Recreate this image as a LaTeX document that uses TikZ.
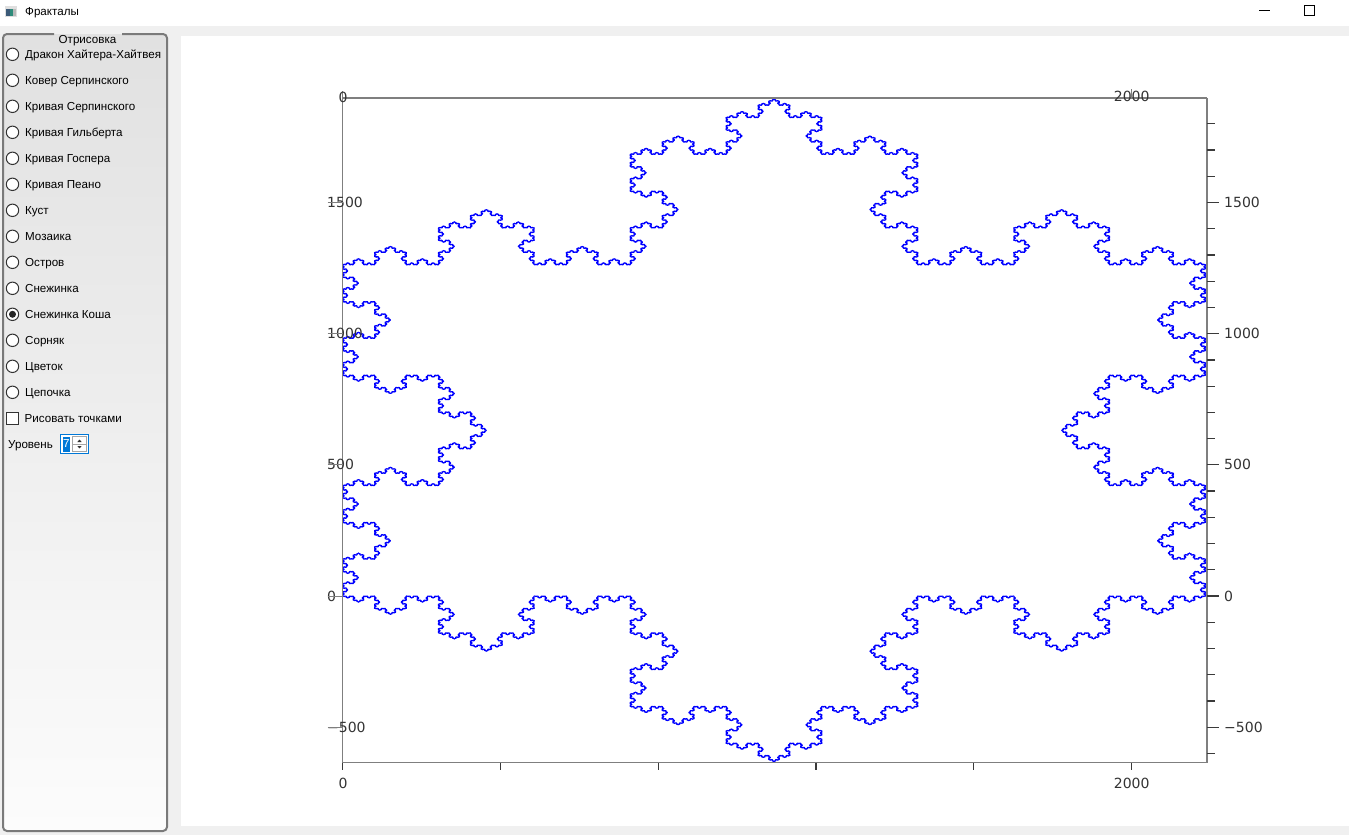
\documentclass[tikz,border=0pt]{standalone}
\usepackage{fontspec}
\setmainfont{Liberation Sans}
\newfontfamily\axisfont{DejaVu Sans}
\definecolor{winbg}{HTML}{F0F0F0}
\definecolor{boxtop}{HTML}{E1E1E1}
\definecolor{boxbot}{HTML}{FCFCFC}
\definecolor{boxborder}{HTML}{7A7A7A}
\definecolor{radiogray}{HTML}{333333}
\definecolor{spinblue}{HTML}{0078D7}
\definecolor{selblue}{HTML}{0078D7}
\definecolor{axisgray}{HTML}{7F7F7F}
\definecolor{tickgray}{HTML}{3A3A3A}
\definecolor{labgray}{HTML}{333333}
\definecolor{fractblue}{HTML}{0000FF}
\definecolor{iconA}{HTML}{3B5A78}
\definecolor{iconB}{HTML}{2E8B7A}
% ---- Koch snowflake turtle (level 7, side 3^7 = 2187 data units) ----
\newdimen\fkx \newdimen\fky \newcount\fkc
\def\fkdirone#1#2#3{%
  \expandafter\def\csname fkdx\the\numexpr#1\relax\endcsname{#2}%
  \expandafter\def\csname fkdy\the\numexpr#1\relax\endcsname{#3}}
\def\fkdir#1#2#3{%
  \fkdirone{#1-12}{#2}{#3}\fkdirone{#1-6}{#2}{#3}\fkdirone{#1}{#2}{#3}%
  \fkdirone{#1+6}{#2}{#3}\fkdirone{#1+12}{#2}{#3}}
% x: 0.3946 px per unit, y: 0.26233 px per unit
\fkdir{0}{0.3946pt}{0pt}
\fkdir{1}{0.1973pt}{0.227185pt}
\fkdir{2}{-0.1973pt}{0.227185pt}
\fkdir{3}{-0.3946pt}{0pt}
\fkdir{4}{-0.1973pt}{-0.227185pt}
\fkdir{5}{0.1973pt}{-0.227185pt}
\def\fkflush{\pgfusepath{stroke}\pgfpathmoveto{\pgfqpoint{\fkx}{\fky}}\fkc=0 }
\def\fkstep#1{%
  \advance\fkx by \csname fkdx\number#1\endcsname\relax
  \advance\fky by \csname fkdy\number#1\endcsname\relax
  \pgfpathlineto{\pgfqpoint{\fkx}{\fky}}%
  \advance\fkc by 1
  \ifnum\fkc>127 \fkflush\fi}
\def\fkoch#1#2{\ifnum#1=0 \fkstep{#2}\else\fknext{#1}{#2}\fi}
\def\fknext#1#2{\expandafter\fkfour\expandafter{\the\numexpr#1-1\relax}{#2}}
\def\fkfour#1#2{\fkoch{#1}{#2}\fkd{#1}{#2-1}\fkd{#1}{#2+1}\fkoch{#1}{#2}}
\def\fkd#1#2{\expandafter\fkswap\expandafter{\the\numexpr#2\relax}{#1}}
\def\fkswap#1#2{\fkoch{#2}{#1}}
\tikzset{
  ui/.style={font=\fontsize{11.6}{14}\selectfont, inner sep=0pt, text=black},
  radio/.style={draw=radiogray, fill=white, line width=1pt},
  axlab/.style={font=\axisfont\fontsize{14}{16}\selectfont, inner sep=0pt, text=labgray},
  axtick/.style={draw=tickgray, line width=1.2pt},
  axline/.style={draw=axisgray, line width=1.6pt},
}
\begin{document}
\begin{tikzpicture}[x=1pt,y=-1pt]
\useasboundingbox (0,0) rectangle (1349,835);
% window
\fill[white] (0,0) rectangle (1349,26);
\fill[winbg] (0,26) rectangle (1349,835);
\fill[white] (181,36) rectangle (1349,826);
% title bar
\fill[gray!25] (5,6) rectangle (17,17);
\fill[iconA] (6,9) rectangle (10,16);
\fill[iconB] (10,9) rectangle (12.5,16);
\fill[gray!55] (12.5,9) rectangle (16,16);
\node[ui, anchor=base west] (title) at (25,15.5) {Фракталы};
\draw[black, line width=1pt] (1259,10) -- (1270,10);
\draw[black, line width=1pt] (1304,5) rectangle (1314,15);
% group box
\shade[top color=boxtop, bottom color=boxbot, rounded corners=4] (3,34) rectangle (167,831);
\draw[boxborder, line width=2pt, rounded corners=4] (54,34) -- (3,34) -- (3,831) -- (167,831) -- (167,34) -- (122,34);
\node[ui, anchor=base] (grp) at (87.5,43.5) {Отрисовка};
\foreach \t [count=\i from 0] in {Дракон Хайтера-Хайтвея, Ковер Серпинского, Кривая Серпинского, Кривая Гильберта, Кривая Госпера, Кривая Пеано, Куст, Мозаика, Остров, Снежинка, Снежинка Коша, Сорняк, Цветок, Цепочка}{
  \pgfmathsetmacro\yy{54.3+26*\i}
  \draw[radio] (12.5,\yy) circle[radius=6.2];
  \node[ui, anchor=base west] (r\i) at (25,\yy+4.3) {\t};
}
\fill[black!85] (12.5,314.3) circle[radius=3.5];
\draw[radio] (6.5,412.5) rectangle (18.5,424.5);
\node[ui, anchor=base west] (dots) at (24.5,422.8) {Рисовать точками};
\node[ui, anchor=base west] (lvl) at (8,448.3) {Уровень};
\fill[white] (60.5,434.5) rectangle (88.5,453.5);
\draw[spinblue, line width=1pt] (60.5,434.5) rectangle (88.5,453.5);
\fill[selblue] (63,437) rectangle (69.5,451.5);
\node[ui, text=white] (lvlval) at (66.3,444) {7};
\draw[gray!70, line width=0.8pt] (72.5,436.5) rectangle (86.5,451.5);
\draw[gray!70, line width=0.8pt] (72.5,444) -- (86.5,444);
\fill[black!80] (77.3,442) -- (81.7,442) -- (79.5,439.6) -- cycle;
\fill[black!80] (77.3,446) -- (81.7,446) -- (79.5,448.4) -- cycle;
% fractal
\begin{pgfscope}
\pgfsetstrokecolor{fractblue}
\pgfsetlinewidth{1.0pt}
\pgfsetroundjoin\pgfsetroundcap
\fkx=342.5pt \fky=-596pt \fkc=0
\pgfpathmoveto{\pgfqpoint{\fkx}{\fky}}
\fkoch{7}{0}\fkoch{7}{2}\fkoch{7}{4}
\pgfusepath{stroke}
\end{pgfscope}
% axes frame
\draw[axline] (342.5,98) -- (1207,98);
\draw[axline] (342.5,91) -- (342.5,762.5);
\draw[axline] (342.5,762.5) -- (1207,762.5);
\draw[axline] (1207,98) -- (1207,762.5);
% right axis ticks
\foreach \v in {-600,-400,-300,-200,-100,100,200,300,400,600,700,800,900,1100,1200,1300,1400,1600,1700,1800}
  \draw[axtick] (1207,{596-0.26233*\v}) -- (1215,{596-0.26233*\v});
\foreach \v/\s in {-500/−500,0/0,500/500,1000/1000,1500/1500}{
  \draw[axtick] (1207,{596-0.26233*\v}) -- (1219,{596-0.26233*\v});
  \node[axlab, anchor=west] (rl\v) at (1224,{596-0.26233*\v}) {\s};
  \node[axlab, anchor=west] (ll\v) at (327,{596-0.26233*\v}) {\s};
  \draw[axisgray, line width=1pt] (327.5,{596-0.26233*\v}) -- (342.5,{596-0.26233*\v});
}
% bottom axis ticks
\foreach \v in {0,400,...,2000}
  \draw[axtick] ({342.5+0.3946*\v},762.5) -- ({342.5+0.3946*\v},769.5);
\node[axlab] (b0) at (343,783) {0};
\node[axlab] (b2000) at (1131.7,783) {2000};
% top axis labels
\node[axlab] (t0) at (343,97) {0};
\node[axlab] (t2000) at (1131.7,96) {2000};
\draw[axisgray, line width=1pt] (1131.7,89) -- (1131.7,98);
\end{tikzpicture}
\end{document}
